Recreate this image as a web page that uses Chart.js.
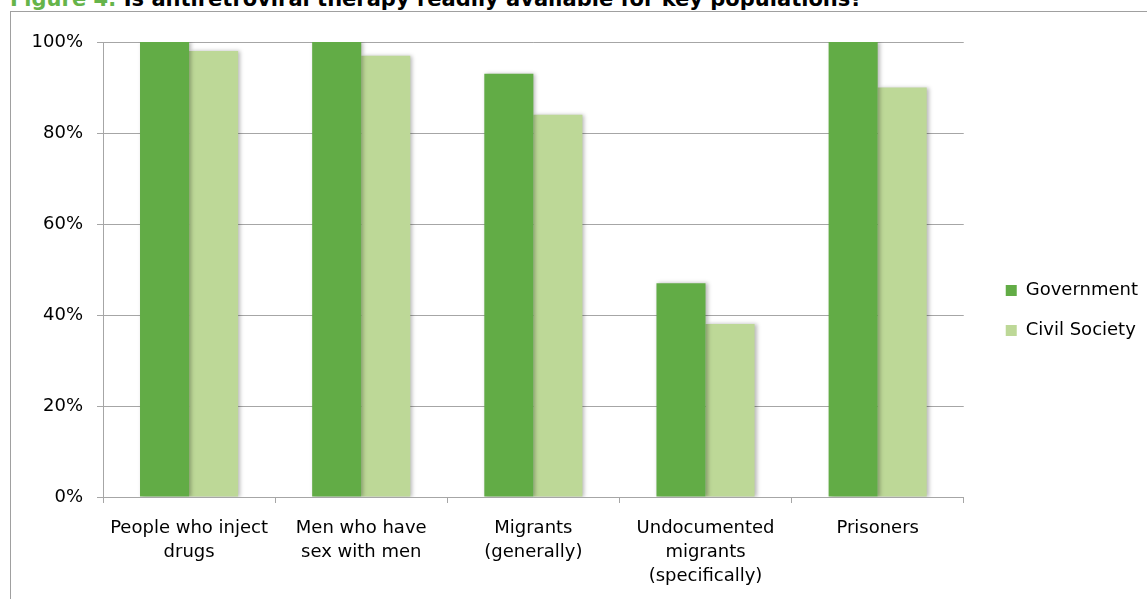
<!DOCTYPE html>
<html>
<head>
<meta charset="utf-8">
<script src="https://cdn.jsdelivr.net/npm/chart.js@4.4.1/dist/chart.umd.min.js"></script>
<style>
  html, body { margin: 0; padding: 0; background: #fff; overflow: hidden; }
  body { width: 1147px; height: 599px; position: relative; font-family: "DejaVu Sans", sans-serif; }
  #title { position: absolute; left: 10px; top: -13px; font-weight: bold; font-size: 21px; line-height: 24px; white-space: nowrap; color: #000; }
  #title .fig { color: #66b44a; }
  #frame { position: absolute; left: 10px; top: 11px; width: 1200px; height: 700px; border-left: 1px solid #a0a0a0; border-top: 1px solid #a0a0a0; }
  #wrap { position: absolute; left: 0; top: 0; width: 1147px; height: 599px; }
</style>
</head>
<body>
<div id="title"><span class="fig">Figure 4:</span> Is antiretroviral therapy readily available for key populations?</div>
<div id="frame"></div>
<div id="wrap"><canvas id="chart" width="1147" height="599"></canvas></div>
<script>
// Key populations asked about
const categories = [
  ['People who inject', 'drugs'],
  ['Men who have', 'sex with men'],
  ['Migrants', '(generally)'],
  ['Undocumented', 'migrants', '(specifically)'],
  'Prisoners'
];
// Share of respondents answering "yes" (%)
const governmentValues = [100, 100, 93, 47, 100];
const civilSocietyValues = [98, 97, 84, 38, 90];
const yTicks = [0, 20, 40, 60, 80, 100];

const gridGrey = '#a6a6a6';
const font = { family: '"DejaVu Sans", sans-serif', size: 18, lineHeight: 1.34 };

// soft drop shadow on the bars
const barShadow = {
  id: 'barShadow',
  beforeDatasetsDraw(chart) {
    const ctx = chart.ctx;
    ctx.save();
    ctx.shadowColor = 'rgba(0,0,0,0.28)';
    ctx.shadowBlur = 4;
    ctx.shadowOffsetX = 2;
    ctx.shadowOffsetY = 0;
  },
  afterDatasetsDraw(chart) {
    chart.ctx.restore();
  }
};

// nudge the legend box: a little right, and centred slightly higher
const legendNudge = {
  id: 'legendNudge',
  afterLayout(chart) {
    const lg = chart.legend;
    if (!lg) return;
    lg.left += 20;
    lg.right += 20;
    lg.bottom -= 20;
    lg.height = lg.bottom - lg.top;
  }
};

new Chart(document.getElementById('chart'), {
  type: 'bar',
  data: {
    labels: categories,
    datasets: [
      { label: 'Government', data: governmentValues, backgroundColor: '#62ac46', borderWidth: 0 },
      { label: 'Civil Society', data: civilSocietyValues, backgroundColor: '#bdd897', borderWidth: 0 }
    ]
  },
  options: {
    responsive: false,
    animation: false,
    devicePixelRatio: 1,
    layout: { padding: { top: 42, left: 0, right: 19, bottom: 0 } },
    datasets: { bar: { categoryPercentage: 0.57, barPercentage: 1.0 } },
    plugins: {
      title: { display: false },
      tooltip: { enabled: false },
      legend: {
        position: 'right',
        align: 'center',
        labels: {
          color: '#000',
          font: { family: '"DejaVu Sans", sans-serif', size: 18 },
          boxWidth: 11,
          boxHeight: 11,
          padding: 22
        }
      }
    },
    scales: {
      x: {
        offset: true,
        grid: { display: true, drawOnChartArea: false, offset: true, tickLength: 6, color: gridGrey, lineWidth: 1 },
        border: { display: true, color: gridGrey, width: 1 },
        ticks: { color: '#000', font: font, padding: 13, maxRotation: 0, autoSkip: false },
        afterFit(scale) { scale.height = 102; }
      },
      y: {
        min: 0,
        max: 100,
        afterBuildTicks(scale) { scale.ticks = yTicks.map(v => ({ value: v })); },
        grid: { color: gridGrey, lineWidth: 1, tickLength: 6, drawTicks: true },
        border: { display: true, color: gridGrey, width: 1 },
        ticks: { color: '#000', font: { family: '"DejaVu Sans", sans-serif', size: 18 }, padding: 14, callback: v => v + '%' },
        afterFit(scale) { scale.width = 103; }
      }
    }
  },
  plugins: [barShadow, legendNudge]
});
</script>
</body>
</html>
